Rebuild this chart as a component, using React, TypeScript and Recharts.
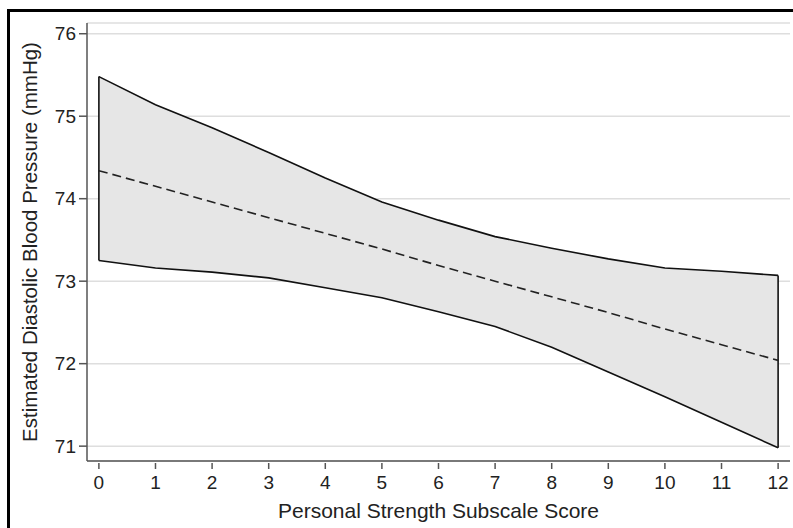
import { ComposedChart, Area, Line, XAxis, YAxis, CartesianGrid, ReferenceLine } from 'recharts'

const scores = [0, 1, 2, 3, 4, 5, 6, 7, 8, 9, 10, 11, 12]
const upper = [75.48, 75.14, 74.86, 74.56, 74.25, 73.96, 73.74, 73.54, 73.4, 73.27, 73.16, 73.12, 73.07]
const lower = [73.25, 73.16, 73.11, 73.04, 72.92, 72.8, 72.63, 72.45, 72.2, 71.9, 71.6, 71.29, 70.98]
const estimate = [74.34, 74.15, 73.96, 73.77, 73.58, 73.39, 73.19, 73.0, 72.81, 72.62, 72.42, 72.23, 72.04]
const xTicks = [0, 1, 2, 3, 4, 5, 6, 7, 8, 9, 10, 11, 12]
const yTicks = [71, 72, 73, 74, 75, 76]

const data = scores.map((s, i) => ({
  score: s,
  band: [lower[i], upper[i]],
  mid: estimate[i],
}))

const FONT = '"Liberation Sans", Arial, sans-serif'
const TEXT = '#222'
const AXIS = '#555'

const XTick = ({ x, y, payload }: any) => (
  <g>
    <line x1={x} x2={x} y1={y + 2} y2={y + 8} stroke={AXIS} strokeWidth={1.5} />
    <text x={x} y={y + 28} textAnchor="middle" fill={TEXT} fontSize={19} fontFamily={FONT}>
      {payload.value}
    </text>
  </g>
)

const XLabel = ({ viewBox }: any) => (
  <text x={viewBox.x + viewBox.width / 2} y={518} textAnchor="middle" fill={TEXT} fontSize={21} fontFamily={FONT}>
    Personal Strength Subscale Score
  </text>
)

const YLabel = ({ viewBox }: any) => {
  const cy = viewBox.y + viewBox.height / 2
  return (
    <text x={37} y={cy} transform={`rotate(-90 37 ${cy})`} textAnchor="middle" fill={TEXT} fontSize={20.5} fontFamily={FONT}>
      Estimated Diastolic Blood Pressure (mmHg)
    </text>
  )
}

const last = scores.length - 1

export default function App() {
  return (
    <div style={{ position: 'fixed', left: 0, top: 0, width: 793, height: 528, background: '#fff', overflow: 'hidden' }}>
      <div style={{ position: 'absolute', left: 7, top: 9, width: 800, height: 540, border: '3px solid #000' }} />
      <div style={{ position: 'absolute', left: 0, top: 0 }}>
        <ComposedChart width={793} height={528} data={data} margin={{ top: 23, right: 3, bottom: 0, left: 0 }}>
          <CartesianGrid vertical={false} stroke="#dedede" strokeWidth={1.5} />
          <XAxis
            dataKey="score"
            type="number"
            domain={[-0.21, 12.21]}
            ticks={xTicks}
            height={67}
            tickLine={false}
            tickSize={0}
            tickMargin={0}
            axisLine={{ stroke: AXIS, strokeWidth: 1.5 }}
            tick={<XTick />}
            label={<XLabel />}
          />
          <YAxis
            type="number"
            domain={[70.82, 76.13]}
            ticks={yTicks}
            width={87}
            tickSize={8}
            tickMargin={3}
            axisLine={{ stroke: AXIS, strokeWidth: 1.5 }}
            tickLine={{ stroke: AXIS, strokeWidth: 1.5 }}
            tick={{ fill: TEXT, fontSize: 19, fontFamily: FONT }}
            label={<YLabel />}
          />
          <Area
            dataKey="band"
            type="linear"
            fill="#e6e6e6"
            fillOpacity={1}
            stroke="#111"
            strokeWidth={1.6}
            isAnimationActive={false}
            dot={false}
            activeDot={false}
          />
          <ReferenceLine segment={[{ x: scores[0], y: lower[0] }, { x: scores[0], y: upper[0] }]} stroke="#111" strokeWidth={1.6} />
          <ReferenceLine segment={[{ x: scores[last], y: lower[last] }, { x: scores[last], y: upper[last] }]} stroke="#111" strokeWidth={1.6} />
          <Line
            dataKey="mid"
            type="linear"
            stroke="#222"
            strokeWidth={1.6}
            strokeDasharray="9 5"
            dot={false}
            activeDot={false}
            isAnimationActive={false}
          />
        </ComposedChart>
      </div>
    </div>
  )
}
